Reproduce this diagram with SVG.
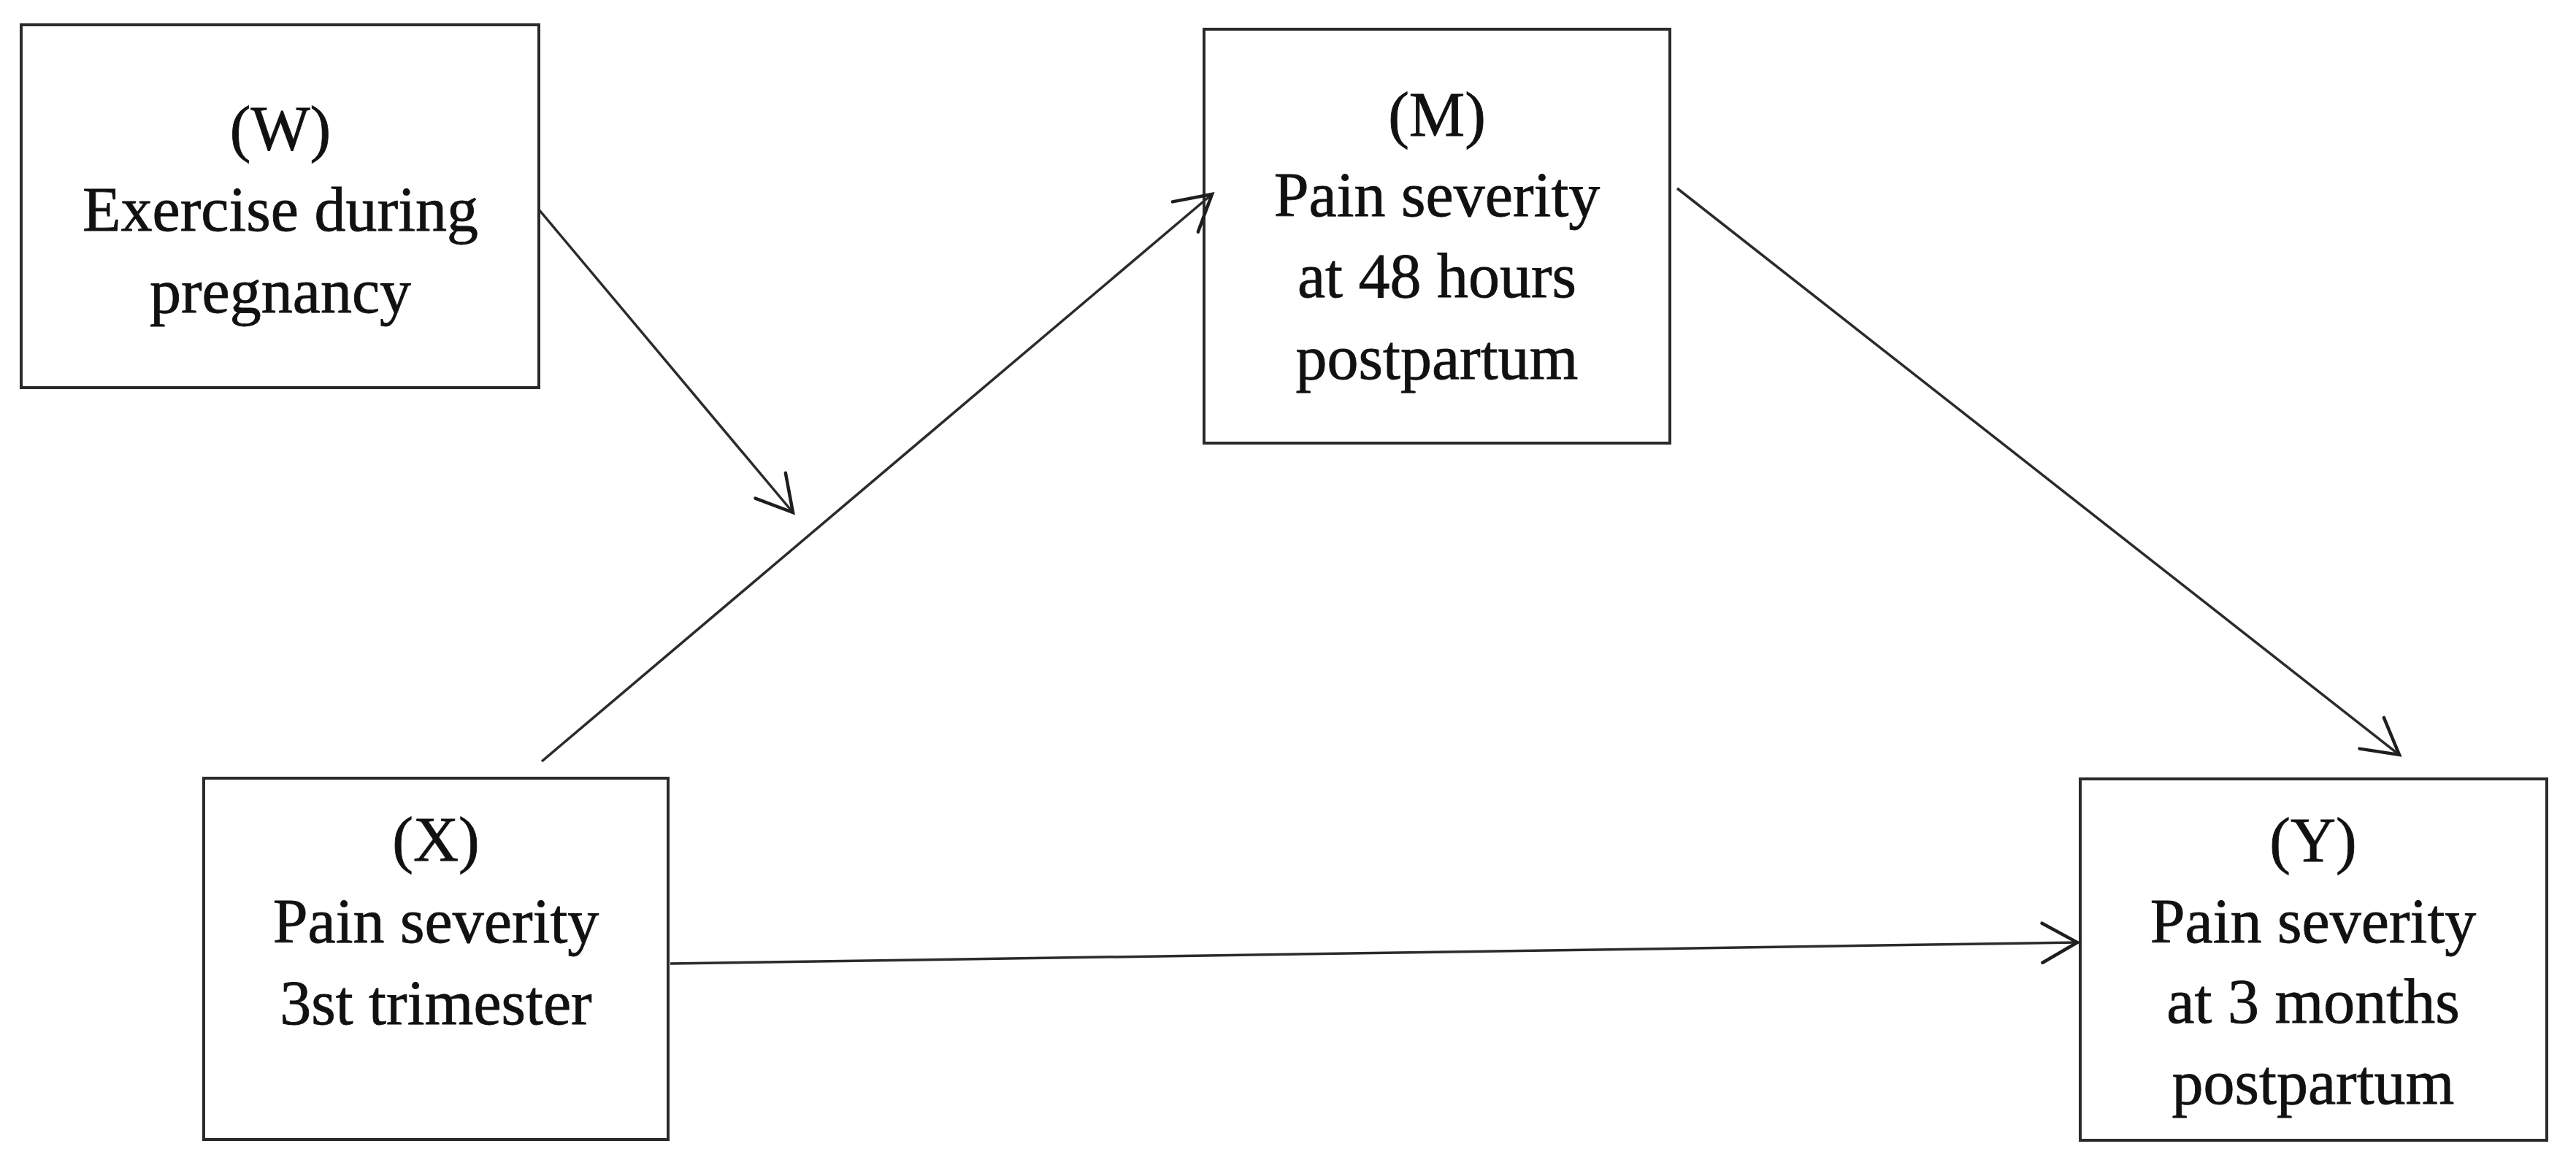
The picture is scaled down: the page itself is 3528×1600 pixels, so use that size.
<svg xmlns="http://www.w3.org/2000/svg" width="3528" height="1600" viewBox="0 0 3528 1600">
<style>
.box{fill:#fff;stroke:#2a2a2a;stroke-width:4}
.lbl{font-family:"Liberation Serif","Times New Roman",serif;font-size:86px;fill:#111;stroke:#111;stroke-width:0.8;text-anchor:middle}
.conn{stroke:#2b2b2b;stroke-width:3.5;fill:none;marker-end:url(#arr)}
</style>
<defs>
<marker id="arr" markerUnits="userSpaceOnUse" markerWidth="120" markerHeight="120" viewBox="-60 -60 120 120" refX="0" refY="0" orient="auto">
<path d="M -48 -27 L 0 0 L -48 27" fill="none" stroke="#1e1e1e" stroke-width="4.5" stroke-linecap="round" stroke-linejoin="miter"/>
</marker>
</defs>
<rect width="3528" height="1600" fill="#fff"/>
<g id="node-W">
<rect class="box" x="29" y="34" width="709" height="497"/>
<text class="lbl" x="384" y="205">(W)</text>
<text class="lbl" x="384" y="316">Exercise during</text>
<text class="lbl" x="384" y="428">pregnancy</text>
</g>
<g id="node-M">
<rect class="box" x="1649" y="40" width="638" height="567"/>
<text class="lbl" x="1968" y="186">(M)</text>
<text class="lbl" x="1968" y="296">Pain severity</text>
<text class="lbl" x="1968" y="407">at 48 hours</text>
<text class="lbl" x="1968" y="519">postpartum</text>
</g>
<g id="node-X">
<rect class="box" x="279" y="1066" width="636" height="495"/>
<text class="lbl" x="597" y="1179">(X)</text>
<text class="lbl" x="597" y="1291">Pain severity</text>
<text class="lbl" x="597" y="1403">3st trimester</text>
</g>
<g id="node-Y">
<rect class="box" x="2849" y="1067" width="639" height="495"/>
<text class="lbl" x="3168" y="1180">(Y)</text>
<text class="lbl" x="3168" y="1291">Pain severity</text>
<text class="lbl" x="3168" y="1401">at 3 months</text>
<text class="lbl" x="3168" y="1512">postpartum</text>
</g>
<g id="connectors">
<line class="conn" x1="738" y1="287" x2="1086" y2="702"/>
<line class="conn" x1="742" y1="1043" x2="1660" y2="266"/>
<line class="conn" x1="2297" y1="258" x2="3286" y2="1034"/>
<line class="conn" x1="918" y1="1320" x2="2845" y2="1291"/>
</g>
</svg>
